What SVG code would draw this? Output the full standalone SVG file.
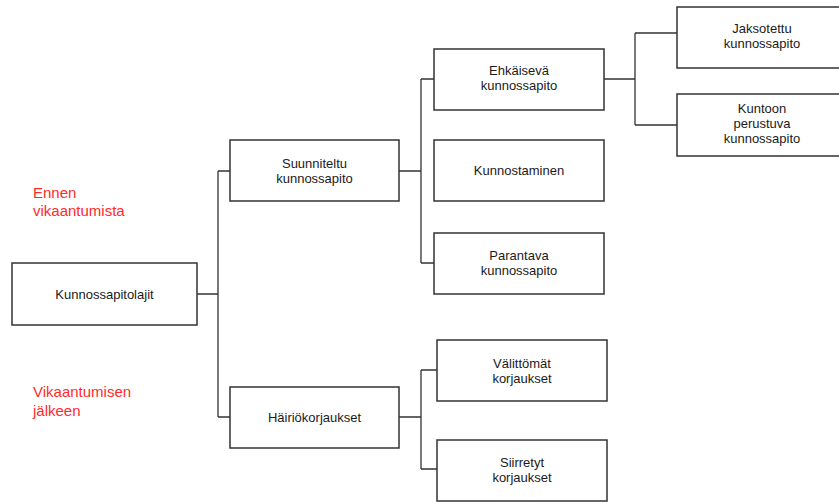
<svg xmlns="http://www.w3.org/2000/svg" width="839" height="502" viewBox="0 0 839 502">
<style>
.box{fill:#fff;stroke:#333;stroke-width:1.5}
.t{font-family:"Liberation Sans",Arial,sans-serif;font-size:13px;fill:#1a1a1a;text-anchor:middle}
.r{font-family:"Liberation Sans",Arial,sans-serif;font-size:15px;fill:#ff2a2a}
.c{fill:none;stroke:#333;stroke-width:1.3}
</style>
<rect width="839" height="502" fill="#fff"/>
<g id="connectors">
<path class="c" d="M197 294H218M218 171V417M218 171H230M218 417H230"/>
<path class="c" d="M399 171H421M421 79V263M421 79H434M421 263H434"/>
<path class="c" d="M604 79H635M635 33V125M635 33H677M635 125H677"/>
<path class="c" d="M399 417H421M421 370V469M421 370H437M421 469H437"/>
</g>
<g id="label-ennen"><text class="r" x="33" y="198">Ennen</text><text class="r" x="33" y="216">vikaantumista</text></g>
<g id="label-jalkeen"><text class="r" x="33" y="397">Vikaantumisen</text><text class="r" x="33" y="416">jälkeen</text></g>
<g id="n-kunnossapitolajit"><rect class="box" x="12" y="263" width="185" height="62"/><text class="t" x="104.5" y="298.5">Kunnossapitolajit</text></g>
<g id="n-suunniteltu"><rect class="box" x="230" y="140" width="169" height="61"/><text class="t" x="314.5" y="168">Suunniteltu</text><text class="t" x="314.5" y="183">kunnossapito</text></g>
<g id="n-hairiokorjaukset"><rect class="box" x="230" y="387" width="169" height="61"/><text class="t" x="314.5" y="421.5">Häiriökorjaukset</text></g>
<g id="n-ehkaiseva"><rect class="box" x="434" y="49" width="170" height="61"/><text class="t" x="519" y="75">Ehkäisevä</text><text class="t" x="519" y="90">kunnossapito</text></g>
<g id="n-kunnostaminen"><rect class="box" x="434" y="140" width="170" height="61"/><text class="t" x="519" y="174.5">Kunnostaminen</text></g>
<g id="n-parantava"><rect class="box" x="434" y="233" width="170" height="61"/><text class="t" x="519" y="259.5">Parantava</text><text class="t" x="519" y="274.5">kunnossapito</text></g>
<g id="n-jaksotettu"><rect class="box" x="677" y="7" width="170" height="61"/><text class="t" x="762" y="33">Jaksotettu</text><text class="t" x="762" y="48">kunnossapito</text></g>
<g id="n-kuntoon"><rect class="box" x="677" y="94" width="170" height="62"/><text class="t" x="762" y="113">Kuntoon</text><text class="t" x="762" y="128">perustuva</text><text class="t" x="762" y="143">kunnossapito</text></g>
<g id="n-valittomat"><rect class="box" x="437" y="340" width="170" height="61"/><text class="t" x="522" y="368">Välittömät</text><text class="t" x="522" y="383">korjaukset</text></g>
<g id="n-siirretyt"><rect class="box" x="437" y="440" width="170" height="61"/><text class="t" x="522" y="467">Siirretyt</text><text class="t" x="522" y="482">korjaukset</text></g>
</svg>
